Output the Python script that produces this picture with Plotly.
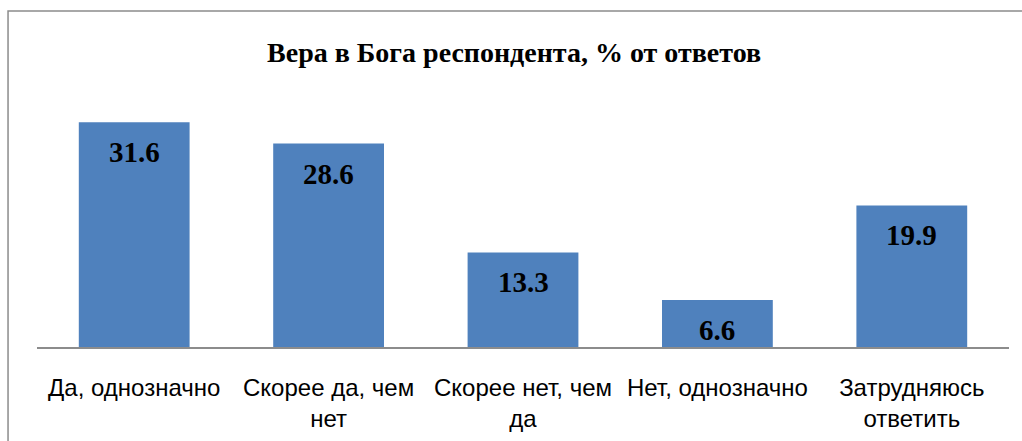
import plotly.graph_objects as go

categories = ["Да, однозначно", "Скорее да, чем<br>нет", "Скорее нет, чем<br>да",
              "Нет, однозначно", "Затрудняюсь<br>ответить"]
values = [31.6, 28.6, 13.3, 6.6, 19.9]
title_text = "Вера в Бога респондента, % от ответов"

BAR_COLOR = "#4F81BD"
SERIF = "Liberation Serif, Times New Roman, serif"
SANS = "Liberation Sans, Arial, sans-serif"

fig = go.Figure(go.Bar(x=categories, y=values, marker=dict(color=BAR_COLOR, line=dict(width=0)),
                       hoverinfo="skip"))

for c, v in zip(categories, values):
    fig.add_annotation(x=c, y=v, text=f"{v:.1f}", showarrow=False, yanchor="middle", yshift=-30,
                       font=dict(family=SERIF, size=29, color="black", weight="bold"))

fig.add_shape(type="rect", xref="paper", yref="paper", x0=-0.0298, x1=1.03, y0=-0.45, y1=1.349,
              line=dict(color="#8c8c8c", width=1.5), fillcolor="rgba(0,0,0,0)", layer="above")

fig.update_layout(
    width=1022, height=441,
    margin=dict(l=37, r=13, t=98, b=94, autoexpand=False),
    paper_bgcolor="white", plot_bgcolor="white",
    bargap=0.43,
    showlegend=False,
    title=dict(text=title_text, x=0.503, xref="container", xanchor="center",
               y=1 - 52 / 441, yref="container", yanchor="middle",
               font=dict(family=SERIF, size=28, color="black", weight="bold")),
    xaxis=dict(showline=True, linecolor="#8c8c8c", linewidth=1.5, ticks="", showgrid=False,
               automargin=False,
               tickfont=dict(family=SANS, size=24, color="black"), ticklabelstandoff=18),
    yaxis=dict(range=[0, 35], visible=False, showgrid=False, zeroline=False, automargin=False),
)

fig.write_html("out.html", config={"displayModeBar": False},
               post_script="document.body.style.margin='0';")
